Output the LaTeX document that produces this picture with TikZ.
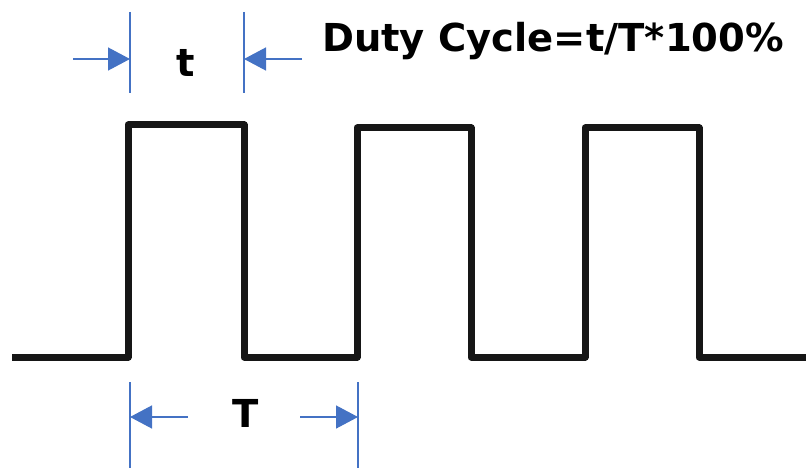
\documentclass[tikz,border=0pt]{standalone}
\usepackage{fontspec}
\setmainfont{DejaVu Sans}
\usetikzlibrary{arrows.meta}
\definecolor{dimblue}{HTML}{4472C4}
\definecolor{wave}{HTML}{161616}
\tikzset{
  dimline/.style={draw=dimblue, line width=1.4pt},
  dimarrow/.style={dimline, -{Triangle[length=22pt,width=23pt]}},
  wavestyle/.style={draw=wave, line width=7pt, line join=round},
  lbl/.style={inner sep=0pt, font=\bfseries\fontsize{38.5}{42}\selectfont, text=black}
}
\begin{document}
\begin{tikzpicture}[x=1pt,y=-1pt]
\useasboundingbox (0,0) rectangle (806,468);
% waveform
\draw[wavestyle] (12,357) -- (128,357) -- (128,125) -- (244,125) -- (244,357)
  -- (357,357) -- (357,128) -- (471,128) -- (471,357) -- (585,357) -- (585,128)
  -- (699,128) -- (699,357) -- (806,357);
% top dimension
\coordinate (ta) at (130,12); \coordinate (tb) at (130,93);
\coordinate (tc) at (244,12); \coordinate (td) at (244,93);
\draw[dimline] (ta) -- (tb);
\draw[dimline] (tc) -- (td);
\coordinate (tls) at (73,59); \coordinate (tle) at (130,59);
\coordinate (trs) at (302,59); \coordinate (tre) at (244,59);
\draw[dimarrow] (tls) -- (tle);
\draw[dimarrow] (trs) -- (tre);
\node[lbl, anchor=base] (tlab) at (186,77) {t};
% bottom dimension
\coordinate (ba) at (130,382); \coordinate (bb) at (130,468);
\coordinate (bc) at (358,382); \coordinate (bd) at (358,468);
\draw[dimline] (ba) -- (bb);
\draw[dimline] (bc) -- (bd);
\coordinate (bls) at (188,417); \coordinate (ble) at (130,417);
\coordinate (brs) at (300,417); \coordinate (bre) at (358,417);
\draw[dimarrow] (bls) -- (ble);
\draw[dimarrow] (brs) -- (bre);
\node[lbl, anchor=base] (Tlab) at (246,427) {T};
% formula
\node[lbl, anchor=base west] (formula) at (322,52) {Duty Cycle=t/T*100\%};
\end{tikzpicture}
\end{document}
